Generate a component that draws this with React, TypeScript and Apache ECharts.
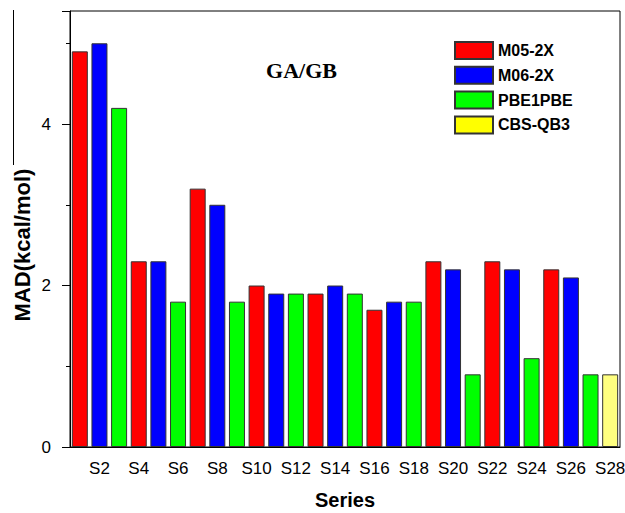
import React, { useEffect, useRef } from 'react';
import * as echarts from 'echarts';

const categories = ['S1','S2','S3','S4','S5','S6','S7','S8','S9','S10','S11','S12','S13','S14','S15','S16','S17','S18','S19','S20','S21','S22','S23','S24','S25','S26','S27','S28'];
const m052x = [4.9,null,null,2.3,null,null,3.2,null,null,2.0,null,null,1.9,null,null,1.7,null,null,2.3,null,null,2.3,null,null,2.2,null,null,null];
const m062x = [null,5.0,null,null,2.3,null,null,3.0,null,null,1.9,null,null,2.0,null,null,1.8,null,null,2.2,null,null,2.2,null,null,2.1,null,null];
const pbe1pbe = [null,null,4.2,null,null,1.8,null,null,1.8,null,null,1.9,null,null,1.9,null,null,1.8,null,null,0.9,null,null,1.1,null,null,0.9,null];
const cbsqb3 = [null,null,null,null,null,null,null,null,null,null,null,null,null,null,null,null,null,null,null,null,null,null,null,null,null,null,null,0.9];
const yTicks = [0, 2, 4];

const SANS = '"Liberation Sans", Arial, sans-serif';

export default function App() {
  const ref = useRef<HTMLDivElement>(null);
  useEffect(() => {
    if (!ref.current) return;
    const chart = echarts.init(ref.current, undefined, { renderer: 'svg' });
    const barBase = {
      type: 'bar' as const,
      stack: 'all',
      barWidth: 16,
      xAxisIndex: 0,
      yAxisIndex: 0,
    };
    const mk = (name: string, data: any[], color: string) => ({
      ...barBase,
      name,
      data,
      itemStyle: { color, borderColor: '#333', borderWidth: 1 },
    });
    chart.setOption({
      animation: false,
      backgroundColor: '#fff',
      grid: { left: 70, right: 5, top: 11, bottom: 66, outerBoundsMode: 'none', containLabel: false, show: true, borderColor: '#000', borderWidth: 1, backgroundColor: 'transparent' },
      legend: {
        orient: 'vertical',
        left: 454,
        top: 41,
        icon: 'rect',
        itemWidth: 38,
        itemHeight: 17,
        itemGap: 5.8,
        padding: 0,
        textStyle: { fontFamily: SANS, fontWeight: 'bold', fontSize: 16, color: '#000' },
        data: [
          { name: 'M05-2X' },
          { name: 'M06-2X' },
          { name: 'PBE1PBE' },
          { name: 'CBS-QB3', itemStyle: { color: '#ffff00' } },
        ],
      },
      xAxis: [
        {
          type: 'category',
          data: categories,
          position: 'bottom',
          boundaryGap: true,
          axisLine: { lineStyle: { color: '#000', width: 1 } },
          axisTick: { alignWithLabel: true, interval: 0, length: 5, lineStyle: { color: '#000' } },
          axisLabel: {
            interval: (i: number) => i % 2 === 1,
            fontFamily: SANS, fontSize: 17, color: '#000', margin: 13,
          },
          name: 'Series',
          nameLocation: 'middle',
          nameGap: 43,
          nameTextStyle: { fontFamily: SANS, fontWeight: 'bold', fontSize: 20, color: '#000' },
        },
        {
          type: 'category',
          data: categories,
          position: 'bottom',
          boundaryGap: true,
          axisLine: { show: false },
          axisTick: { alignWithLabel: true, interval: (i: number) => i % 2 === 1, length: 8, lineStyle: { color: '#000' } },
          axisLabel: { show: false },
        },
      ],
      yAxis: {
        type: 'value',
        min: 0,
        max: 5.4,
        interval: 2,
        axisLine: { show: true, lineStyle: { color: '#000', width: 1 } },
        axisTick: { show: true, length: 8, lineStyle: { color: '#000' } },
        minorTick: { show: true, splitNumber: 2, length: 4, lineStyle: { color: '#000' } },
        splitLine: { show: false },
        axisLabel: {
          fontFamily: SANS, fontSize: 17, color: '#000', margin: 19,
          formatter: (v: number) => (yTicks.includes(v) ? String(v) : ''),
        },
      },
      graphic: [
        {
          type: 'text',
          x: 301.5,
          y: 70.5,
          style: { text: 'GA/GB', font: 'bold 22px "Liberation Serif", "Times New Roman", serif', fill: '#000', align: 'center', verticalAlign: 'middle' },
        },
        {
          type: 'text',
          x: 22,
          y: 245,
          rotation: Math.PI / 2,
          style: { text: 'MAD(kcal/mol)', font: 'bold 22px "Liberation Sans", Arial, sans-serif', fill: '#000', align: 'center', verticalAlign: 'middle' },
        },
        {
          type: 'line',
          shape: { x1: 13.5, y1: 10, x2: 13.5, y2: 165 },
          style: { stroke: '#000', lineWidth: 1 },
        },
      ],
      series: [
        mk('M05-2X', m052x, '#ff0000'),
        mk('M06-2X', m062x, '#0000ff'),
        mk('PBE1PBE', pbe1pbe, '#00ff00'),
        mk('CBS-QB3', cbsqb3, '#ffff80'),
      ],
    });
    return () => chart.dispose();
  }, []);
  return <div ref={ref} style={{ position: 'fixed', left: 0, top: 0, width: 625, height: 513 }} />;
}
